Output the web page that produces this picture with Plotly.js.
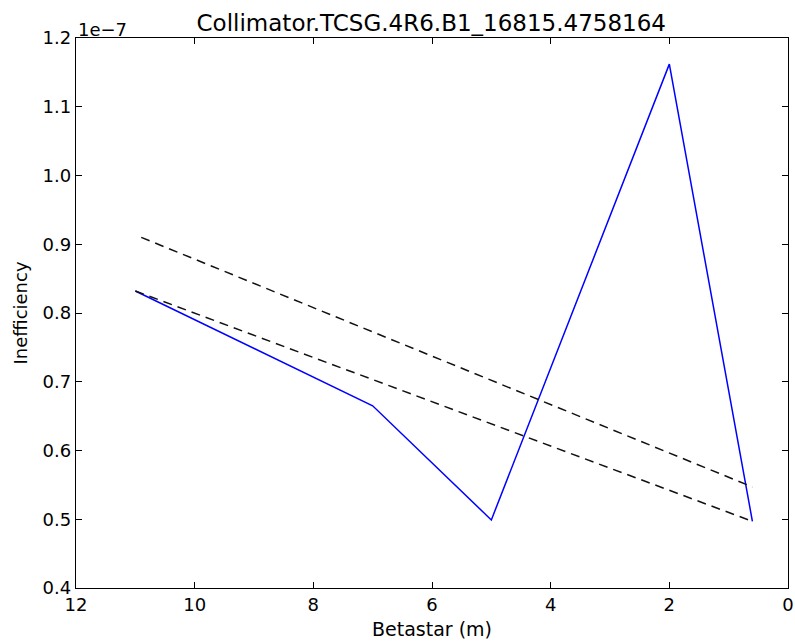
<!DOCTYPE html>
<html>
<head>
<meta charset="utf-8">
<script src="https://cdn.plot.ly/plotly-3.0.1.min.js"></script>
<style>html,body{margin:0;padding:0;background:#fff;}#chart{width:795px;height:644px;}</style>
</head>
<body>
<div id="chart"></div>
<script>
// Values in units of 1e-7
const betastar = [11.0, 7.0, 5.0, 2.0, 0.6];
const inefficiency = [0.832, 0.665, 0.499, 1.162, 0.497];
const upperX = [10.9, 0.6];
const upperY = [0.910, 0.547];
const lowerX = [11.0, 0.6];
const lowerY = [0.832, 0.497];
const xTicks = [12, 10, 8, 6, 4, 2, 0];
const yTicks = [0.4, 0.5, 0.6, 0.7, 0.8, 0.9, 1.0, 1.1, 1.2];

const font = "DejaVu Sans, sans-serif";
const traces = [
  {x: betastar, y: inefficiency, mode: 'lines', line: {color: '#0000ff', width: 1.5}, type: 'scatter'},
  {x: upperX, y: upperY, mode: 'lines', line: {color: '#111111', width: 1.5, dash: '9px,6px'}, type: 'scatter'},
  {x: lowerX, y: lowerY, mode: 'lines', line: {color: '#111111', width: 1.5, dash: '9px,6px'}, type: 'scatter'}
];
const axisCommon = {
  showgrid: false, zeroline: false, showline: true, linecolor: '#000', linewidth: 1.3,
  mirror: 'ticks', ticks: 'inside', ticklen: 6, tickwidth: 1, tickcolor: '#000',
  tickfont: {family: font, size: 18, color: '#000'}
};
const layout = {
  width: 795, height: 644,
  margin: {l: 76, r: 7, t: 38, b: 56},
  paper_bgcolor: '#fff', plot_bgcolor: '#fff',
  showlegend: false,
  title: {text: 'Collimator.TCSG.4R6.B1_16815.4758164', font: {family: font, size: 23, color: '#000'},
          x: 0.5425, xanchor: 'center', y: 0.952, yref: 'container', yanchor: 'bottom'},
  xaxis: Object.assign({}, axisCommon, {
    range: [12, 0], tickvals: xTicks, ticktext: xTicks.map(String),
    title: {text: 'Betastar (m)', font: {family: font, size: 19, color: '#000'}, standoff: 8}
  }),
  yaxis: Object.assign({}, axisCommon, {
    range: [0.4, 1.2], tickvals: yTicks, ticktext: yTicks.map(v => v.toFixed(1)),
    title: {text: 'Inefficiency', font: {family: font, size: 18, color: '#000'}, standoff: 10}
  }),
  annotations: [{
    text: '1e\u22127', xref: 'paper', yref: 'paper', x: 0, y: 1, xanchor: 'left', yanchor: 'bottom',
    showarrow: false, font: {family: font, size: 18, color: '#000'}, yshift: -4
  }]
};
Plotly.newPlot('chart', traces, layout, {displayModeBar: false, staticPlot: true});
</script>
</body>
</html>
